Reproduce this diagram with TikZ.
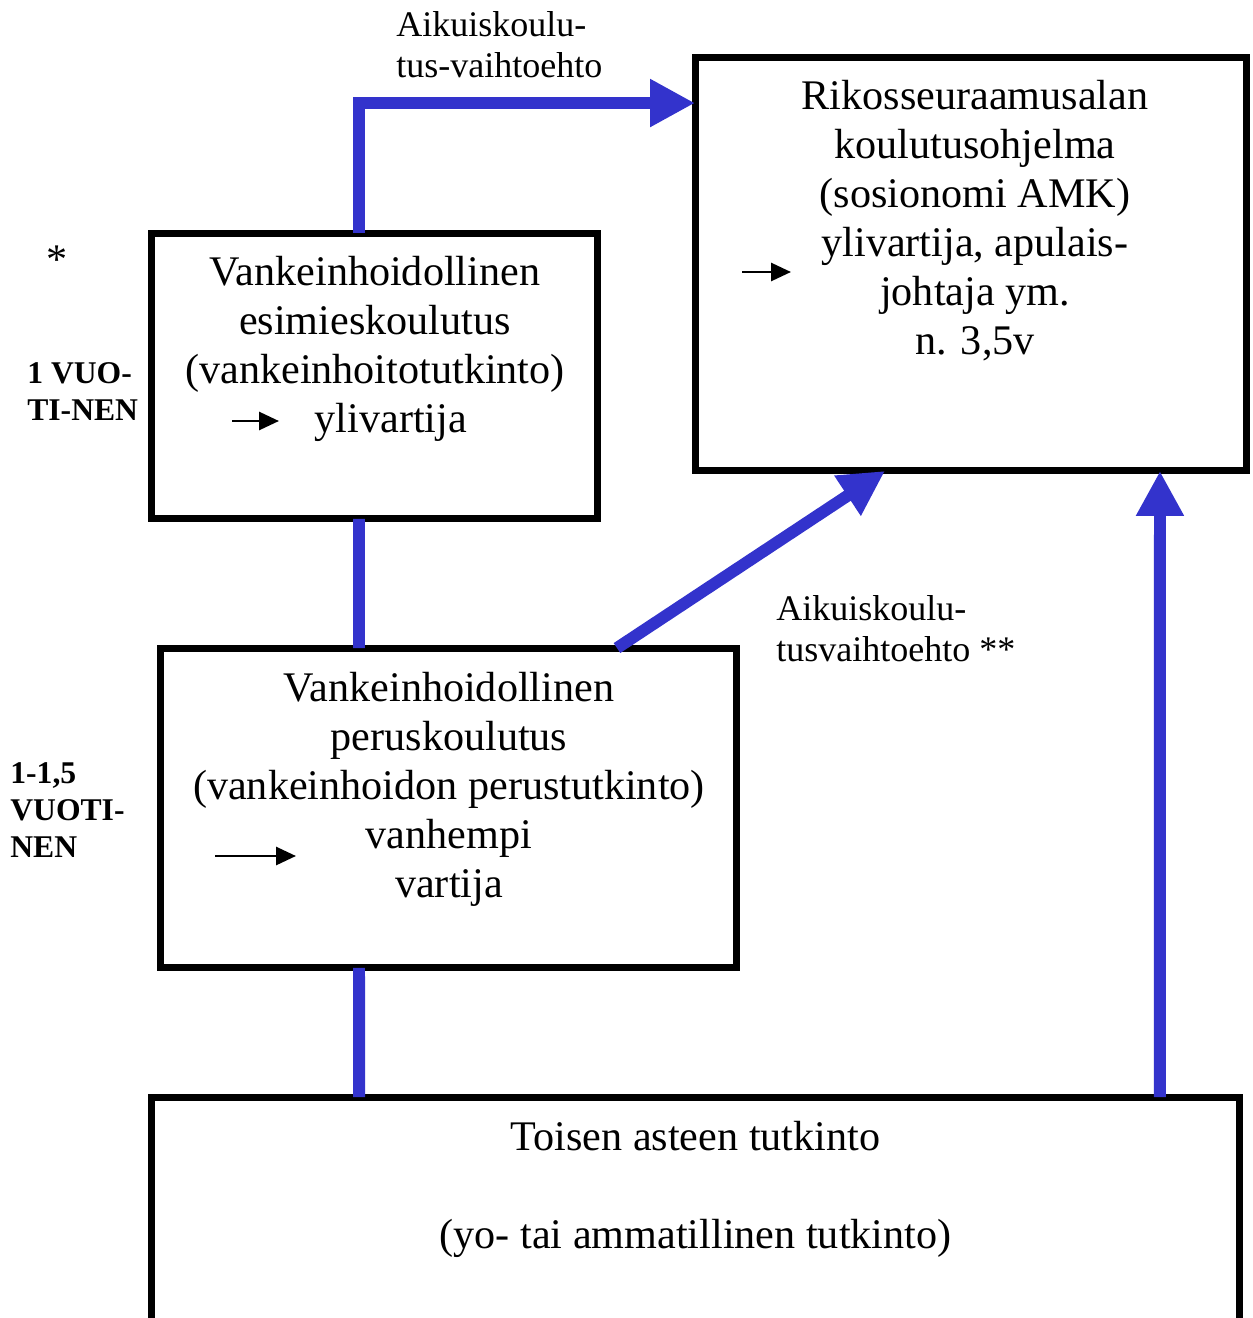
\documentclass[tikz,border=0pt]{standalone}
\usepackage{fontspec}
\setmainfont{Liberation Serif}
\usepackage{tikz}
\usetikzlibrary{arrows.meta,positioning}

\definecolor{sininen}{RGB}{51,51,204}

\begin{document}
\begin{tikzpicture}[x=0.02cm,y=-0.02cm,
    laatikko/.style={draw,line width=4pt,inner sep=0pt,outer sep=0pt},
    yhteys/.style={draw=sininen,line width=6.8pt},
    nuoli/.style={yhteys,-{Triangle[length=0.9cm,width=0.9cm]}},
    pil/.style={-{Triangle[length=0.4cm,width=0.36cm]},line width=1.6pt},
    teksti/.style={align=center,font=\fontsize{24}{27.9}\selectfont,inner sep=0pt},
    pieni/.style={align=left,font=\fontsize{20.5}{23.5}\selectfont,inner sep=0pt,anchor=west},
    lihava/.style={align=left,font=\bfseries\fontsize{18}{21}\selectfont,inner sep=0pt,anchor=west}]

    \useasboundingbox (0,0) rectangle (1252,1318);

    % The boxes
	\node [laatikko,minimum width=8.94cm,minimum height=5.72cm] at (374.5,376) (esimies) {};
	\node [laatikko,minimum width=11.54cm,minimum height=6.4cm] at (448.5,808) (perus) {};
	\node [laatikko,minimum width=11.04cm,minimum height=8.28cm] at (971,264) (rikos) {};
	\node [laatikko,minimum width=21.78cm,minimum height=4.52cm] at (695.5,1210) (toinen) {};

    % Box texts
	\node [teksti] at (375,349) (esimiesT) {Vankeinhoidollinen\\esimieskoulutus\\(vankeinhoitotutkinto)\\\hspace*{0.64cm}ylivartija};
	\node [teksti] at (449,789) (perusT) {Vankeinhoidollinen\\peruskoulutus\\(vankeinhoidon perustutkinto)\\vanhempi\\vartija};
	\node [teksti] at (975,221) (rikosT) {Rikosseuraamusalan\\koulutusohjelma\\(sosionomi AMK)\\ylivartija, apulais-\\johtaja ym.\\n. 3,5v};
	\node [teksti] at (695.5,1189.5) (toinenT) {Toisen asteen tutkinto\\[27.9pt](yo- tai ammatillinen tutkinto)};

	% Small arrows in the boxes
	\draw [pil] (232,421) -- (279,421);
	\draw [pil] (215,856) -- (296,856);
	\draw [pil] (742,272) -- (791,272);

    % Side labels
	\node [teksti,anchor=base] at (57,273) (tahti) {*};
	\node [lihava] at (27,391.5) (vuosi1) {1 VUO-\\TI-NEN};
	\node [lihava] at (10,810) (vuosi2) {1-1,5\\VUOTI-\\NEN};
	\node [pieni] at (396,45) (aikuis1) {Aikuiskoulu-\\tus-vaihtoehto};
	\node [pieni] at (776,628.5) (aikuis2) {Aikuiskoulu-\\tusvaihtoehto **};

	% Connectors
	\draw [nuoli] ([xshift=-0.31cm]esimies.north) |- ([yshift=-0.92cm]rikos.north west);
	\draw [yhteys] ([xshift=-0.31cm]esimies.south) -- ([xshift=-1.79cm]perus.north);
	\draw [yhteys] ([xshift=-1.79cm]perus.south) -- ([xshift=-6.73cm]toinen.north);
	\draw [nuoli] ([xshift=3.37cm]perus.north) -- ([xshift=-1.72cm]rikos.south);
	\draw [nuoli] ([xshift=9.29cm]toinen.north) -- ([xshift=3.78cm]rikos.south);

\end{tikzpicture}
\end{document}
